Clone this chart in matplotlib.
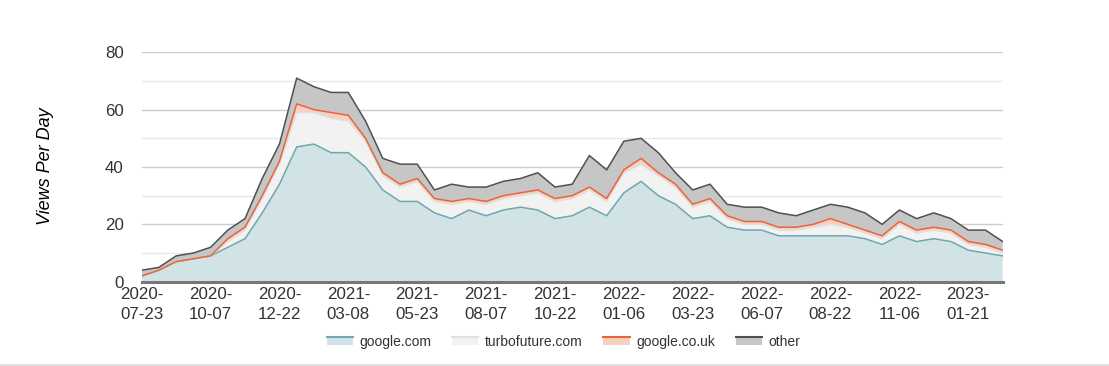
import numpy as np
import matplotlib
matplotlib.use('Agg')
import matplotlib.pyplot as plt
from matplotlib.patches import Rectangle
from matplotlib.lines import Line2D
from matplotlib.legend_handler import HandlerBase

plt.rcParams['font.family'] = ['Liberation Sans', 'DejaVu Sans']

# one sample every 19 days starting 2020-07-23, label on every 4th sample
tick_labels = ['2020-\n07-23', '2020-\n10-07', '2020-\n12-22', '2021-\n03-08',
               '2021-\n05-23', '2021-\n08-07', '2021-\n10-22', '2022-\n01-06',
               '2022-\n03-23', '2022-\n06-07', '2022-\n08-22', '2022-\n11-06',
               '2023-\n01-21']

google_com = [2, 4, 7, 8, 9, 12, 15, 24, 34, 47, 48, 45, 45, 40, 32, 28, 28, 24, 22, 25,
              23, 25, 26, 25, 22, 23, 26, 23, 31, 35, 30, 27, 22, 23, 19, 18, 18, 16, 16, 16,
              16, 16, 15, 13, 16, 14, 15, 14, 11, 10, 9]
turbofuture = [0, 0, 0, 0, 0, 2, 3, 5, 7, 12, 11, 12, 11, 9, 5, 5, 7, 4, 5, 3,
               4, 4, 4, 6, 6, 6, 6, 5, 7, 6, 7, 6, 4, 5, 3, 2, 2, 2, 2, 3,
               4, 3, 2, 2, 4, 3, 3, 3, 2, 2, 1]
google_co_uk = [0, 0, 0, 0, 0, 1, 1, 1, 1, 3, 1, 2, 2, 1, 1, 1, 1, 1, 1, 1,
                1, 1, 1, 1, 1, 1, 1, 1, 1, 2, 1, 1, 1, 1, 1, 1, 1, 1, 1, 1,
                2, 1, 1, 1, 1, 1, 1, 1, 1, 1, 1]
other = [2, 1, 2, 2, 3, 3, 3, 6, 6, 9, 8, 7, 8, 6, 5, 7, 5, 3, 6, 4,
         5, 5, 5, 6, 4, 4, 11, 10, 10, 7, 7, 4, 5, 5, 4, 5, 5, 5, 4, 5,
         5, 6, 6, 4, 4, 4, 5, 4, 4, 5, 3]

series_names = ['google.com', 'turbofuture.com', 'google.co.uk', 'other']
fill_colors = ['#d2e3e6', '#f2f2f2', '#f8d0c2', '#c6c6c6']
line_colors = ['#6fa7b0', '#e0e0e0', '#e8653a', '#505050']


class TopLineHandler(HandlerBase):
    # legend swatch: light fill with a coloured line along the top edge
    def create_artists(self, legend, orig_handle, xdescent, ydescent,
                       width, height, fontsize, trans):
        fc, lc = orig_handle
        h = height * 0.7
        y0 = (height - h) / 2 - ydescent
        rect = Rectangle((-xdescent, y0), width, h, facecolor=fc,
                         edgecolor='none', transform=trans)
        line = Line2D([-xdescent, -xdescent + width], [y0 + h, y0 + h],
                      color=lc, lw=1.5, transform=trans)
        return [rect, line]


def main():
    data = np.array([google_com, turbofuture, google_co_uk, other], dtype=float)
    x = np.arange(data.shape[1])
    tops = np.cumsum(data, axis=0)

    fig = plt.figure(figsize=(11.09, 3.66), dpi=100)
    ax = fig.add_axes([141.7 / 1109, 84.3 / 366, 861 / 1109, 229.4 / 366])

    for v in range(10, 90, 10):
        major = v % 20 == 0
        ax.axhline(v, color='#cccccc' if major else '#e8e8e8', lw=1.0, zorder=0)

    ax.stackplot(x, data, colors=fill_colors, zorder=1)
    for i in range(len(series_names)):
        ax.plot(x, tops[i], color=line_colors[i], lw=1.1, zorder=2)

    ax.set_xlim(0, len(x) - 1)
    ax.set_ylim(0, 80)
    ax.set_yticks(range(0, 81, 20))
    ax.set_xticks(x[::4])
    ax.set_xticklabels(tick_labels, linespacing=1.4)
    ax.tick_params(axis='both', length=0, labelsize=12.2, colors='#333333')
    ax.tick_params(axis='y', pad=13)
    ax.tick_params(axis='x', pad=4)

    for s in ['top', 'right', 'left']:
        ax.spines[s].set_visible(False)
    ax.spines['bottom'].set_color('#777777')
    ax.spines['bottom'].set_linewidth(2.2)
    ax.spines['bottom'].set_zorder(3)

    fig.text(46 / 1109, 1 - 166 / 366, 'Views Per Day', rotation=90, style='italic',
             fontsize=13, ha='center', va='center', color='black')

    handles = [(fill_colors[i], line_colors[i]) for i in range(len(series_names))]
    fig.legend(handles, series_names, handler_map={tuple: TopLineHandler()},
               loc='center', bbox_to_anchor=(0.508, 1 - 342 / 366), ncol=4,
               frameon=False, fontsize=10, labelcolor='#333333',
               handlelength=1.9, handleheight=0.8, handletextpad=0.45,
               columnspacing=1.5)

    fig.add_artist(Line2D([0, 1], [1.5 / 366, 1.5 / 366], color='#dddddd', lw=1.2,
                          transform=fig.transFigure))

    fig.savefig('out.png', dpi=100)


if __name__ == '__main__':
    main()
